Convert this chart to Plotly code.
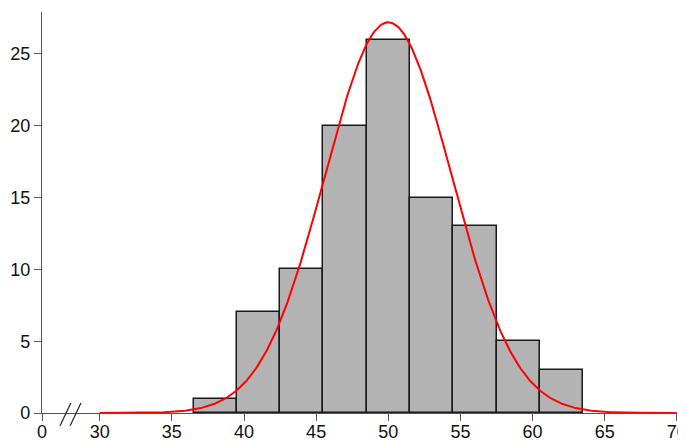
import numpy as np
import plotly.graph_objects as go

# Histogram data
bin_centers = [38, 41, 44, 47, 50, 53, 56, 59, 62]
counts = [1, 7, 10, 20, 26, 15, 13, 5, 3]
bin_width = 3

# Fitted normal curve parameters
fit_mean = 50.0
fit_sd = 4.4
n_total = sum(counts)
curve_start, curve_end = 30, 70

# Axis ticks (broken axis: the "0" tick is drawn at the break position 26)
x_tickvals = [26, 30, 35, 40, 45, 50, 55, 60, 65, 70]
x_ticktext = ["0", "30", "35", "40", "45", "50", "55", "60", "65", "70"]
y_tickvals = [0, 5, 10, 15, 20, 25]

xc = np.linspace(curve_start, curve_end, 400)
yc = n_total * bin_width / (fit_sd * np.sqrt(2 * np.pi)) * np.exp(-0.5 * ((xc - fit_mean) / fit_sd) ** 2)

fig = go.Figure()
fig.add_trace(go.Bar(
    x=bin_centers, y=counts, width=bin_width,
    marker=dict(color="#b3b3b3", line=dict(color="#1a1a1a", width=1.5)),
    showlegend=False,
))
fig.add_trace(go.Scatter(
    x=xc, y=yc, mode="lines",
    line=dict(color="#ff0000", width=2),
    showlegend=False, cliponaxis=False,
))

# break marks on the x axis
for x0, x1 in [(27.25, 28.0), (27.95, 28.7)]:
    fig.add_shape(type="line", xref="x", yref="paper",
                  x0=x0, x1=x1, y0=-0.032, y1=0.025,
                  line=dict(color="#222222", width=1.2))

axis_font = dict(family="Liberation Sans, Arial, sans-serif", size=18, color="#111111")
# the page body adds an 8px offset; margins compensate for it
fig.update_layout(
    width=686, height=433,
    margin=dict(l=34, r=17, t=4, b=28, autoexpand=False),
    plot_bgcolor="white", paper_bgcolor="white",
    bargap=0,
    xaxis=dict(range=[26, 70.01], tickvals=x_tickvals, ticktext=x_ticktext,
               automargin=False, ticklabelstandoff=-5, ticklabeloverflow="allow",
               showgrid=False, zeroline=False, showline=True, linecolor="#555555",
               linewidth=1.2, ticks="outside", ticklen=7, tickcolor="#555555",
               tickfont=axis_font),
    yaxis=dict(range=[0, 27.92], tickvals=y_tickvals, automargin=False,
               showgrid=False, zeroline=False, showline=True, linecolor="#555555",
               linewidth=1.2, ticks="outside", ticklen=7, tickcolor="#555555",
               tickfont=axis_font),
)
fig.write_html("out.html")
